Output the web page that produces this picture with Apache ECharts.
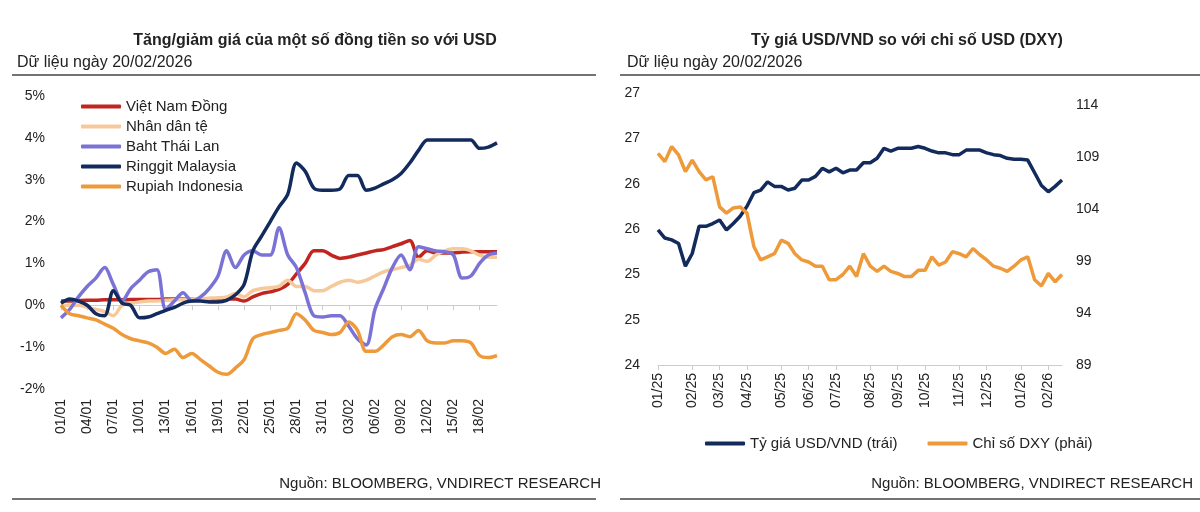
<!DOCTYPE html>
<html><head><meta charset="utf-8">
<script src="https://cdn.jsdelivr.net/npm/echarts@6/dist/echarts.min.js"></script>
<style>html,body{margin:0;background:#fff}#c{width:1200px;height:512px}</style>
</head><body><div id="c"></div>
<script>
// Left chart: % change vs USD, daily 01/01 - 20/02/2026
const dayLabels = [];
for (let d = 0; d < 51; d++) {
    const dt = new Date(Date.UTC(2026, 0, 1 + d));
    dayLabels.push(String(dt.getUTCDate()).padStart(2, '0') + '/' + String(dt.getUTCMonth() + 1).padStart(2, '0'));
}
const vnd = [0.1,0.1,0.11,0.12,0.12,0.13,0.13,0.13,0.14,0.14,0.14,0.14,0.15,0.15,0.15,0.15,0.15,0.15,0.15,0.15,0.15,0.1,0.2,0.28,0.32,0.38,0.5,0.75,1.0,1.3,1.3,1.2,1.12,1.15,1.2,1.25,1.3,1.33,1.4,1.47,1.55,1.15,1.3,1.25,1.25,1.25,1.27,1.28,1.28,1.28,1.28];
const cny = [0,0,0,-0.05,-0.1,-0.15,-0.25,0,0.05,0.08,0.1,0.1,0.12,0.13,0.14,0.15,0.16,0.17,0.18,0.2,0.28,0.2,0.35,0.4,0.42,0.45,0.6,0.45,0.45,0.35,0.35,0.45,0.55,0.6,0.55,0.6,0.7,0.8,0.85,0.9,0.95,1.1,1.05,1.2,1.3,1.35,1.35,1.3,1.2,1.15,1.15];
const thb = [-0.3,-0.1,0.2,0.45,0.65,0.9,0.5,0.1,0.4,0.6,0.8,0.85,-0.1,0.1,0.3,0.1,0.2,0.4,0.7,1.3,0.9,1.2,1.3,1.2,1.2,1.85,1.2,0.9,0.3,-0.25,-0.28,-0.25,-0.25,-0.5,-0.8,-0.95,-0.1,0.4,0.9,1.2,0.85,1.4,1.35,1.3,1.28,1.2,0.65,0.7,1.0,1.2,1.25];
const myr = [0.05,0.15,0.1,0,-0.2,-0.25,0.35,0.05,0,-0.3,-0.28,-0.2,-0.12,-0.05,0.05,0.1,0.1,0.08,0.08,0.12,0.25,0.5,1.3,1.65,2.0,2.35,2.65,3.4,3.2,2.8,2.75,2.75,2.78,3.1,3.1,2.75,2.8,2.9,3.0,3.15,3.4,3.7,3.95,3.95,3.95,3.95,3.95,3.95,3.75,3.78,3.88];
const idr = [0,-0.2,-0.25,-0.3,-0.35,-0.45,-0.55,-0.7,-0.8,-0.85,-0.9,-1.0,-1.15,-1.05,-1.25,-1.15,-1.3,-1.45,-1.6,-1.65,-1.5,-1.3,-0.8,-0.7,-0.65,-0.6,-0.55,-0.2,-0.35,-0.6,-0.65,-0.7,-0.65,-0.4,-0.6,-1.1,-1.1,-0.95,-0.75,-0.7,-0.75,-0.6,-0.85,-0.9,-0.9,-0.85,-0.85,-0.9,-1.2,-1.25,-1.2];

// Right chart: weekly from 01/01/2025
const weekLabels = [];
for (let w = 0; w < 60; w++) {
    const dt = new Date(Date.UTC(2025, 0, 1 + 7 * w));
    weekLabels.push(String(dt.getUTCMonth() + 1).padStart(2, '0') + '/' + String(dt.getUTCFullYear()).slice(2));
}
const usdvnd = [25.49,25.40,25.38,25.34,25.09,25.23,25.53,25.53,25.56,25.6,25.49,25.56,25.64,25.75,25.9,25.93,26.02,25.97,25.97,25.93,25.95,26.04,26.04,26.08,26.17,26.13,26.17,26.12,26.15,26.15,26.23,26.23,26.28,26.39,26.36,26.39,26.39,26.39,26.41,26.39,26.36,26.34,26.34,26.32,26.32,26.37,26.37,26.37,26.34,26.32,26.31,26.28,26.27,26.27,26.26,26.12,25.98,25.91,25.97,26.04];
const dxy = [109.35,108.55,110.0,109.2,107.6,108.7,107.6,106.8,107.1,104.2,103.6,104.1,104.2,103.6,100.4,99.1,99.4,99.7,101.0,100.7,99.7,99.1,98.9,98.5,98.5,97.2,97.2,97.7,98.5,97.5,99.7,98.5,98.0,98.5,98.0,97.8,97.5,97.5,98.1,98.1,99.4,98.6,98.9,99.9,99.7,99.4,100.2,99.6,99.1,98.5,98.3,98.0,98.5,99.1,99.4,97.2,96.6,97.8,97.0,97.7];
const dxyTicks = [89, 94, 99, 104, 109, 114];

const font = 'Liberation Sans, Arial, sans-serif';
const txt = '#222';
const lbl = {color: txt, fontSize: 14, fontFamily: font};
const monthStart = (i) => i === 0 || weekLabels[i] !== weekLabels[i - 1];

const line = (name, data, color, extra = {}) => Object.assign({
    name, data, type: 'line', showSymbol: false, smooth: 0.3,
    lineStyle: {color, width: 3.5}, itemStyle: {color}
}, extra);

const rule = (x1, y1, x2, y2) => ({type: 'line', shape: {x1, y1, x2, y2}, style: {stroke: '#444', lineWidth: 1.5}});

const chart = echarts.init(document.getElementById('c'));
chart.setOption({
    animation: false,
    textStyle: {fontFamily: font},
    title: [
        {text: 'Tăng/giảm giá của một số đồng tiền so với USD', left: 310, top: 28, textAlign: 'center', textStyle: {fontSize: 16, fontWeight: 'bold', color: txt, fontFamily: font}},
        {text: 'Dữ liệu ngày 20/02/2026', left: 12, top: 50, textStyle: {fontSize: 16, fontWeight: 'normal', color: txt, fontFamily: font}},
        {text: 'Tỷ giá USD/VND so với chỉ số USD (DXY)', left: 902, top: 28, textAlign: 'center', textStyle: {fontSize: 16, fontWeight: 'bold', color: txt, fontFamily: font}},
        {text: 'Dữ liệu ngày 20/02/2026', left: 622, top: 50, textStyle: {fontSize: 16, fontWeight: 'normal', color: txt, fontFamily: font}},
        {text: 'Nguồn: BLOOMBERG, VNDIRECT RESEARCH', left: 596, top: 471, textAlign: 'right', textStyle: {fontSize: 15, fontWeight: 'normal', color: txt, fontFamily: font}},
        {text: 'Nguồn: BLOOMBERG, VNDIRECT RESEARCH', left: 1188, top: 471, textAlign: 'right', textStyle: {fontSize: 15, fontWeight: 'normal', color: txt, fontFamily: font}}
    ],
    graphic: [
        rule(12, 75, 596, 75), rule(620, 75, 1200, 75),
        rule(12, 499, 596, 499), rule(620, 499, 1200, 499)
    ],
    legend: [
        {data: ['Việt Nam Đồng', 'Nhân dân tệ', 'Baht Thái Lan', 'Ringgit Malaysia', 'Rupiah Indonesia'],
         orient: 'vertical', left: 76, top: 94, itemGap: 5, itemWidth: 40, itemHeight: 4, icon: 'roundRect',
         textStyle: {fontSize: 15, color: txt, fontFamily: font}},
        {data: ['Tỷ giá USD/VND (trái)', 'Chỉ số DXY (phải)'], left: 700, top: 431, itemGap: 30, itemWidth: 40, itemHeight: 4, icon: 'roundRect',
         textStyle: {fontSize: 15, color: txt, fontFamily: font}}
    ],
    grid: [
        {left: 61, top: 96, width: 436, height: 293, outerBoundsMode: 'none'},
        {left: 658, top: 93, width: 404, height: 272, outerBoundsMode: 'none'}
    ],
    xAxis: [
        {gridIndex: 0, type: 'category', data: dayLabels, boundaryGap: false,
         axisLine: {onZero: true, lineStyle: {color: '#ccc'}},
         axisTick: {interval: 2, lineStyle: {color: '#ccc'}},
         axisLabel: Object.assign({}, lbl, {interval: 2, rotate: 90, margin: 10})},
        {gridIndex: 1, type: 'category', data: weekLabels, boundaryGap: false,
         axisLine: {lineStyle: {color: '#ccc'}},
         axisTick: {interval: monthStart, lineStyle: {color: '#ccc'}},
         axisLabel: Object.assign({}, lbl, {interval: monthStart, rotate: 90, margin: 8})}
    ],
    yAxis: [
        {gridIndex: 0, type: 'value', min: -2, max: 5, interval: 1, splitLine: {show: false},
         axisLine: {show: false}, axisTick: {show: false},
         axisLabel: Object.assign({}, lbl, {formatter: v => v + '%', margin: 16})},
        {gridIndex: 1, type: 'value', min: 24, max: 27, interval: 0.5, splitLine: {show: false},
         axisLine: {show: false}, axisTick: {show: false},
         axisLabel: Object.assign({}, lbl, {formatter: v => Math.round(v), margin: 18})},
        {gridIndex: 1, type: 'value', position: 'right', min: 89, max: 115.15, splitLine: {show: false},
         axisLine: {show: false}, axisTick: {show: false},
         axisLabel: Object.assign({}, lbl, {customValues: dxyTicks, margin: 14})}
    ],
    series: [
        line('Việt Nam Đồng', vnd, '#c0261f'),
        line('Nhân dân tệ', cny, '#f7c99a'),
        line('Baht Thái Lan', thb, '#7b72d6'),
        line('Ringgit Malaysia', myr, '#122a5c'),
        line('Rupiah Indonesia', idr, '#ee9a3a'),
        line('Tỷ giá USD/VND (trái)', usdvnd, '#122a5c', {xAxisIndex: 1, yAxisIndex: 1, smooth: false}),
        line('Chỉ số DXY (phải)', dxy, '#ee9a3a', {xAxisIndex: 1, yAxisIndex: 2, smooth: false})
    ]
});
</script></body></html>
